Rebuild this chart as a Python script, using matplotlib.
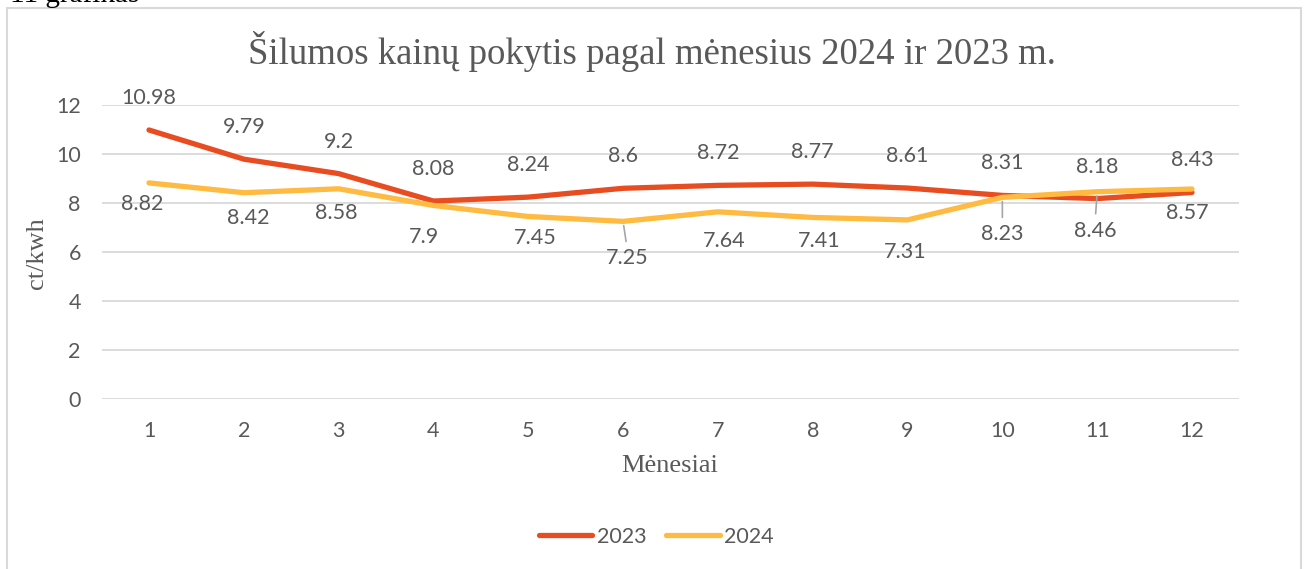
import numpy as np
import matplotlib
matplotlib.use("Agg")
import matplotlib.pyplot as plt
from matplotlib.patches import Rectangle

# data
months = [1, 2, 3, 4, 5, 6, 7, 8, 9, 10, 11, 12]
price_2023 = [10.98, 9.79, 9.2, 8.08, 8.24, 8.6, 8.72, 8.77, 8.61, 8.31, 8.18, 8.43]
price_2024 = [8.82, 8.42, 8.58, 7.9, 7.45, 7.25, 7.64, 7.41, 7.31, 8.23, 8.46, 8.57]
labels_2023 = ["10.98", "9.79", "9.2", "8.08", "8.24", "8.6", "8.72", "8.77", "8.61", "8.31", "8.18", "8.43"]
labels_2024 = ["8.82", "8.42", "8.58", "7.9", "7.45", "7.25", "7.64", "7.41", "7.31", "8.23", "8.46", "8.57"]
yticks = [0, 2, 4, 6, 8, 10, 12]

# label placement (pixels), as moved around in the original chart
off_2024 = [(-7, 21), (4, 25), (-2, 24), (-9, 32), (7, 22), (4, 37),
            (6, 29), (6, 24), (-2, 32), (0, 37), (-2, 39), (-5, 24)]
leader_2024 = [5, 9, 10]

W, H = 1309, 569
sans = ["Lato", "DejaVu Sans"]
serif = ["Liberation Serif", "DejaVu Serif"]
grey = "#595959"
c23 = "#E84D22"
c24 = "#FFBA42"
fs = 15.5

fig = plt.figure(figsize=(W / 100, H / 100), dpi=100)
ax = fig.add_axes([101.6 / W, 1 - 399 / H, (1239.4 - 101.6) / W, (399 - 105) / H])

# chart frame and caption cut off at top
fig.patches.append(Rectangle((7 / W, -0.05), (1301 - 7) / W, 1 - 8 / H + 0.05,
                             transform=fig.transFigure, fill=False,
                             edgecolor="#D9D9D9", lw=1.5))
fig.text(10 / W, 1 - 2 / H, "11 grafikas", family=serif, fontsize=21,
         color="black", va="baseline", ha="left")

l1, = ax.plot(months, price_2023, color=c23, lw=3.8, label="2023",
              solid_capstyle="round", solid_joinstyle="round", zorder=3)
l2, = ax.plot(months, price_2024, color=c24, lw=3.8, label="2024",
              solid_capstyle="round", solid_joinstyle="round", zorder=4)

for m, v, t in zip(months, price_2023, labels_2023):
    ax.annotate(t, (m, v), xytext=(0, 32), textcoords="offset pixels",
                ha="center", va="center", fontsize=fs, color=grey, family=sans)

for i, (m, v, t) in enumerate(zip(months, price_2024, labels_2024)):
    dx, dy = off_2024[i]
    if i in leader_2024:
        ax.annotate(t, (m, v), xytext=(dx, -dy), textcoords="offset pixels",
                    ha="center", va="center", fontsize=fs, color=grey, family=sans,
                    arrowprops=dict(arrowstyle="-", color="#A6A6A6", lw=1.2,
                                    relpos=(0.5, 1.0), shrinkA=3, shrinkB=3))
    else:
        ax.annotate(t, (m, v), xytext=(dx, -dy), textcoords="offset pixels",
                    ha="center", va="center", fontsize=fs, color=grey, family=sans)

ax.set_xlim(0.5, 12.5)
ax.set_ylim(0, 12)
ax.set_xticks(months)
ax.set_yticks(yticks)
ax.grid(axis="y", color="#D9D9D9", lw=1.3)
ax.set_axisbelow(True)
for s in ax.spines.values():
    s.set_visible(False)
ax.tick_params(axis="both", length=0, labelsize=fs, labelcolor=grey)
ax.tick_params(axis="y", pad=15)
ax.tick_params(axis="x", pad=16)
for lab in ax.get_xticklabels() + ax.get_yticklabels():
    lab.set_family(sans)

fig.text(651.5 / W, 1 - 52 / H, "Šilumos kainų pokytis pagal mėnesius 2024 ir 2023 m.",
         family=serif, fontsize=26.5, color=grey, ha="center", va="center")
fig.text(37 / W, 1 - 253 / H, "ct/kwh", family=serif, fontsize=19, color=grey,
         rotation=90, ha="center", va="center")
fig.text(670 / W, 1 - 466 / H, "Mėnesiai", family=serif, fontsize=19, color=grey,
         ha="center", va="center")

leg = fig.legend(handles=[l1, l2], loc="center", bbox_to_anchor=(656 / W, 1 - 537 / H),
                 ncol=2, frameon=False, handlelength=2.5, handletextpad=0.2,
                 columnspacing=0.9, prop={"family": sans, "size": fs})
for t in leg.get_texts():
    t.set_color(grey)

fig.savefig("out.png", dpi=100)
